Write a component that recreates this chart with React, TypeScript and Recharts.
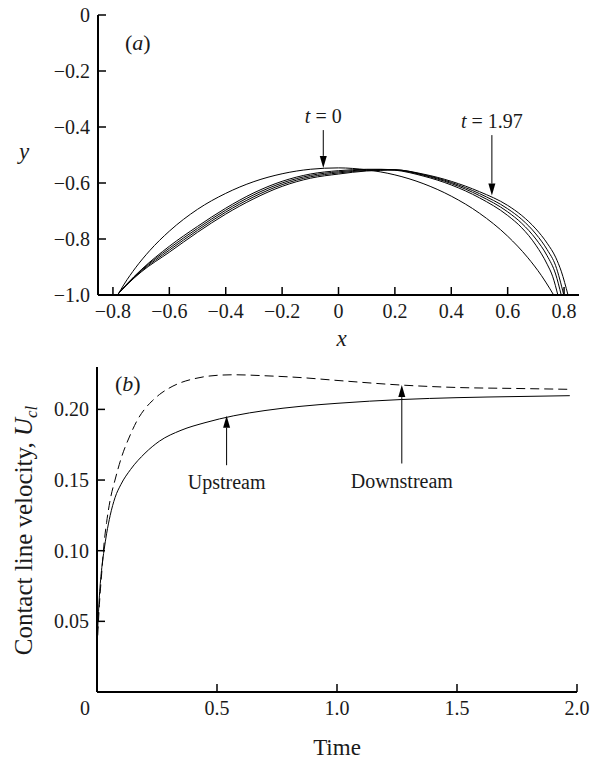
import React from 'react';
import { LineChart, Line, XAxis, YAxis, ReferenceLine } from 'recharts';

const SERIF = '"Liberation Serif", "Times New Roman", serif';
const INK = '#1a1a1a';

// (a) drop profiles, [x, y] pairs; first one is t = 0, last one t = 1.97
const profileT0 = [
  [-0.783, -1.0], [-0.76, -0.961], [-0.72, -0.903], [-0.67, -0.842], [-0.6, -0.772],
  [-0.5, -0.694], [-0.4, -0.637], [-0.3, -0.595], [-0.2, -0.567], [-0.1, -0.551],
  [0, -0.546], [0.1, -0.553], [0.2, -0.571], [0.3, -0.602], [0.4, -0.647],
  [0.5, -0.708], [0.6, -0.79], [0.67, -0.865], [0.72, -0.931], [0.75, -0.978], [0.763, -1.0],
];
const profileT1 = [
  [-0.785, -1.0], [-0.75, -0.96], [-0.7, -0.91], [-0.6, -0.826], [-0.5, -0.755],
  [-0.4, -0.69], [-0.3, -0.635], [-0.2, -0.594], [-0.1, -0.568], [0, -0.556],
  [0.1, -0.551], [0.15, -0.551], [0.2, -0.554], [0.3, -0.575], [0.4, -0.607],
  [0.5, -0.653], [0.6, -0.716], [0.65, -0.76], [0.7, -0.822], [0.74, -0.89],
  [0.76, -0.935], [0.778, -1.0],
];
const profileT2 = [
  [-0.785, -1.0], [-0.75, -0.961], [-0.7, -0.912], [-0.6, -0.833], [-0.5, -0.762],
  [-0.4, -0.697], [-0.3, -0.642], [-0.2, -0.6], [-0.1, -0.573], [0, -0.56],
  [0.1, -0.553], [0.15, -0.552], [0.2, -0.553], [0.3, -0.572], [0.4, -0.602],
  [0.5, -0.645], [0.6, -0.703], [0.65, -0.744], [0.7, -0.8], [0.74, -0.86],
  [0.77, -0.925], [0.79, -1.0],
];
const profileT3 = [
  [-0.785, -1.0], [-0.75, -0.962], [-0.7, -0.915], [-0.6, -0.84], [-0.5, -0.769],
  [-0.4, -0.704], [-0.3, -0.649], [-0.2, -0.606], [-0.1, -0.578], [0, -0.564],
  [0.1, -0.555], [0.15, -0.553], [0.2, -0.553], [0.3, -0.57], [0.4, -0.598],
  [0.5, -0.638], [0.6, -0.692], [0.65, -0.73], [0.7, -0.782], [0.74, -0.838],
  [0.77, -0.895], [0.799, -1.0],
];
const profileT4 = [
  [-0.785, -1.0], [-0.75, -0.963], [-0.7, -0.918], [-0.6, -0.847], [-0.5, -0.776],
  [-0.4, -0.711], [-0.3, -0.656], [-0.2, -0.612], [-0.1, -0.583], [0, -0.568],
  [0.1, -0.557], [0.15, -0.555], [0.2, -0.553], [0.3, -0.568], [0.4, -0.594],
  [0.5, -0.631], [0.6, -0.68], [0.65, -0.716], [0.7, -0.764], [0.74, -0.815],
  [0.77, -0.865], [0.79, -0.915], [0.814, -1.0],
];
const profiles = [profileT0, profileT1, profileT2, profileT3, profileT4];

const xTicksA = [-0.8, -0.6, -0.4, -0.2, 0, 0.2, 0.4, 0.6, 0.8];
const yTicksA = [-1, -0.8, -0.6, -0.4, -0.2, 0];

// (b) contact line velocity against time
const upTimes = [
  0.003, 0.01, 0.02, 0.03, 0.04, 0.055, 0.075, 0.1, 0.14, 0.2, 0.26,
  0.35, 0.45, 0.57, 0.7, 0.85, 1.0, 1.27, 1.5, 1.75, 1.97,
];
const upstream = [
  0.045, 0.068, 0.088, 0.101, 0.112, 0.125, 0.1375, 0.147, 0.1575, 0.169, 0.1775,
  0.1852, 0.1906, 0.1955, 0.1992, 0.2022, 0.2043, 0.207, 0.2083, 0.2091, 0.2097,
];
const downTimes = [
  0.003, 0.01, 0.02, 0.03, 0.04, 0.055, 0.075, 0.1, 0.14, 0.17, 0.2, 0.23, 0.26,
  0.3, 0.35, 0.4, 0.45, 0.5, 0.57, 0.7, 0.85, 1.0, 1.27, 1.5, 1.75, 1.97,
];
const downstream = [
  0.04, 0.062, 0.085, 0.106, 0.12, 0.136, 0.15, 0.165, 0.1825, 0.193, 0.2005, 0.206, 0.2105,
  0.215, 0.219, 0.2215, 0.2232, 0.2241, 0.2245, 0.2238, 0.2225, 0.2205, 0.2172, 0.2155, 0.2148, 0.2142,
];
const xTicksB = [0, 0.5, 1.0, 1.5, 2.0];
const yTicksB = [0.05, 0.1, 0.15, 0.2];

const toPoints = (pairs: number[][]) => pairs.map(([x, y]) => ({ x, y }));
const velocityUp = upTimes.map((t, i) => ({ t, u: upstream[i] }));
const velocityDown = downTimes.map((t, i) => ({ t, u: downstream[i] }));

const minus = (s: string) => s.replace('-', '\u2212');
const fmt1 = (v: number) => (v === 0 ? '0' : minus(v.toFixed(1)));
const fmt2 = (v: number) => v.toFixed(2);

// ticks point into the plot, labels sit outside
const BottomTick = (props: any) => {
  const { x, y, payload, format, shift } = props;
  const dx = shift ? shift(payload.value) : 0;
  return (
    <g>
      <line x1={x} y1={y} x2={x} y2={y - 8} stroke="#000" strokeWidth={1.5} />
      <text x={x + dx} y={y + 23} textAnchor="middle" fontFamily={SERIF} fontSize={20} fill={INK}>
        {format(payload.value)}
      </text>
    </g>
  );
};

const LeftTick = (props: any) => {
  const { x, y, payload, format } = props;
  return (
    <g>
      <line x1={x} y1={y} x2={x + 8} y2={y} stroke="#000" strokeWidth={1.5} />
      <text x={x - 8} y={y + 7} textAnchor="end" fontFamily={SERIF} fontSize={20} fill={INK}>
        {format(payload.value)}
      </text>
    </g>
  );
};

const arrow = (label: React.ReactNode) => (props: any) => {
  const { x1, y1, x2, y2 } = props;
  const dir = y2 > y1 ? 1 : -1;
  const base = y2 - dir * 12;
  return (
    <g>
      <line x1={x1} y1={y1} x2={x2} y2={base} stroke="#000" strokeWidth={1} />
      <polygon points={`${x2},${y2} ${x2 - 3.5},${base} ${x2 + 3.5},${base}`} fill="#000" />
      <text
        x={x1}
        y={dir > 0 ? y1 - 7 : y1 + 24}
        textAnchor="middle"
        fontFamily={SERIF}
        fontSize={20}
        fill={INK}
      >
        {label}
      </text>
    </g>
  );
};

const axisLine = { stroke: '#000', strokeWidth: 2 };

export default function App() {
  return (
    <div style={{ position: 'absolute', left: 0, top: 0, width: 592, height: 759, background: '#fff' }}>
      <div style={{ position: 'absolute', left: 0, top: 0 }}>
        <LineChart width={592} height={355} margin={{ top: 15, right: 13, bottom: 30, left: 0 }}>
          <XAxis
            type="number"
            dataKey="x"
            domain={[-0.853, 0.853]}
            ticks={xTicksA}
            interval={0}
            allowDataOverflow
            axisLine={axisLine}
            tickLine={false}
            tickSize={0}
            tickMargin={0}
            height={30}
            tick={<BottomTick format={fmt1} />}
            label={(p: any) => (
              <text
                x={p.viewBox.x + p.viewBox.width / 2 + 3}
                y={p.viewBox.y + 51}
                textAnchor="middle"
                fontFamily={SERIF}
                fontStyle="italic"
                fontSize={23}
                fill={INK}
              >
                x
              </text>
            )}
          />
          <YAxis
            type="number"
            dataKey="y"
            domain={[-1, 0]}
            ticks={yTicksA}
            interval={0}
            allowDataOverflow
            axisLine={axisLine}
            tickLine={false}
            tickSize={0}
            tickMargin={0}
            width={98}
            tick={<LeftTick format={fmt1} />}
            label={(p: any) => (
              <text
                x={p.viewBox.x + 24}
                y={p.viewBox.y + p.viewBox.height / 2 + 4}
                textAnchor="middle"
                fontFamily={SERIF}
                fontStyle="italic"
                fontSize={23}
                fill={INK}
              >
                y
              </text>
            )}
          />
          {profiles.map((pts, i) => (
            <Line
              key={i}
              data={toPoints(pts)}
              dataKey="y"
              type="monotone"
              stroke="#000"
              strokeWidth={1}
              dot={false}
              isAnimationActive={false}
            />
          ))}
          <ReferenceLine
            segment={[{ x: -0.054, y: -0.411 }, { x: -0.054, y: -0.546 }]}
            shape={arrow(<><tspan fontStyle="italic">t</tspan> = 0</>)}
          />
          <ReferenceLine
            segment={[{ x: 0.544, y: -0.429 }, { x: 0.544, y: -0.645 }]}
            shape={arrow(<><tspan fontStyle="italic">t</tspan> = 1.97</>)}
          />
          <text x={125} y={50} fontFamily={SERIF} fontSize={22} fill={INK}>
            (<tspan fontStyle="italic">a</tspan>)
          </text>
        </LineChart>
      </div>

      <div style={{ position: 'absolute', left: 0, top: 355 }}>
        <LineChart width={592} height={404} margin={{ top: 12, right: 15, bottom: 37, left: 0 }}>
          <XAxis
            type="number"
            dataKey="t"
            domain={[0, 2]}
            ticks={xTicksB}
            interval={0}
            allowDataOverflow
            axisLine={axisLine}
            tickLine={false}
            tickSize={0}
            tickMargin={0}
            height={30}
            tick={<BottomTick format={fmt1} shift={(v: number) => (v === 0 ? -12 : 0)} />}
            label={(p: any) => (
              <text
                x={p.viewBox.x + p.viewBox.width / 2}
                y={p.viewBox.y + 63}
                textAnchor="middle"
                fontFamily={SERIF}
                fontSize={23}
                fill={INK}
              >
                Time
              </text>
            )}
          />
          <YAxis
            type="number"
            dataKey="u"
            domain={[0, 0.23]}
            ticks={yTicksB}
            interval={0}
            allowDataOverflow
            axisLine={axisLine}
            tickLine={false}
            tickSize={0}
            tickMargin={0}
            width={97}
            tick={<LeftTick format={fmt2} />}
            label={(p: any) => {
              const cx = p.viewBox.x + 32;
              const cy = p.viewBox.y + p.viewBox.height / 2 + 1;
              return (
                <text
                  x={cx}
                  y={cy}
                  transform={`rotate(-90, ${cx}, ${cy})`}
                  textAnchor="middle"
                  fontFamily={SERIF}
                  fontSize={25}
                  fill={INK}
                >
                  Contact line velocity, <tspan fontStyle="italic">U</tspan>
                  <tspan fontStyle="italic" fontSize={17} dy={5}>cl</tspan>
                </text>
              );
            }}
          />
          <Line
            data={velocityDown}
            dataKey="u"
            type="monotone"
            stroke="#000"
            strokeWidth={1}
            strokeDasharray="9 5"
            dot={false}
            isAnimationActive={false}
          />
          <Line
            data={velocityUp}
            dataKey="u"
            type="monotone"
            stroke="#000"
            strokeWidth={1}
            dot={false}
            isAnimationActive={false}
          />
          <ReferenceLine segment={[{ x: 0.54, y: 0.1605 }, { x: 0.54, y: 0.1955 }]} shape={arrow('Upstream')} />
          <ReferenceLine segment={[{ x: 1.27, y: 0.1617 }, { x: 1.27, y: 0.2172 }]} shape={arrow('Downstream')} />
          <text x={115} y={36} fontFamily={SERIF} fontSize={22} fill={INK}>
            (<tspan fontStyle="italic">b</tspan>)
          </text>
        </LineChart>
      </div>
    </div>
  );
}
